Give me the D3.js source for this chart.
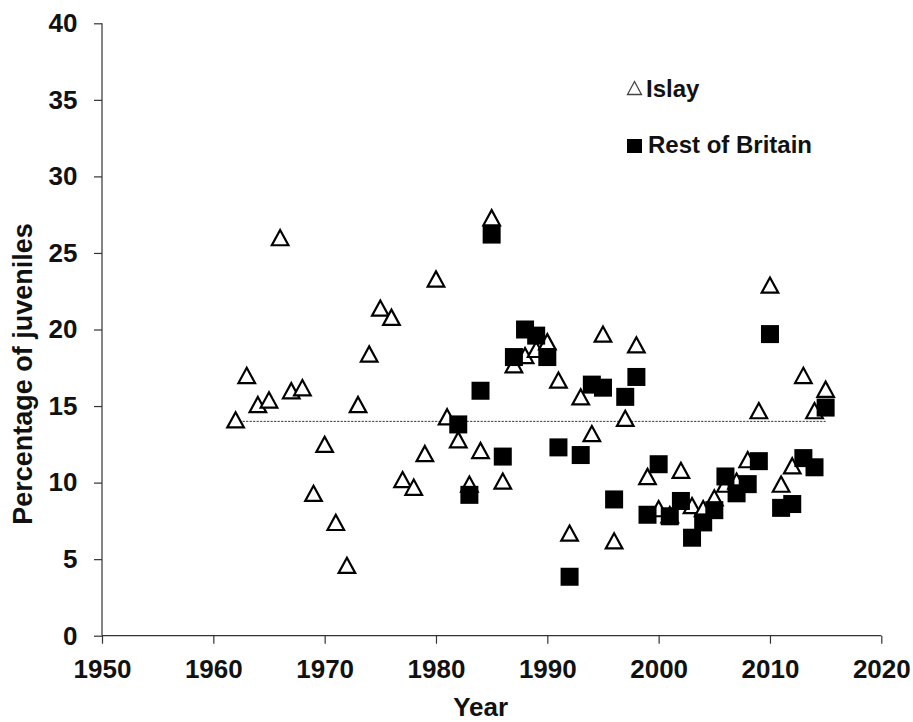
<!DOCTYPE html>
<html>
<head>
<meta charset="utf-8">
<script src="https://cdn.jsdelivr.net/npm/d3@7"></script>
<style>
  html, body { margin: 0; padding: 0; background: #fff; }
  svg { display: block; font-family: "Liberation Sans", Arial, sans-serif; }
</style>
</head>
<body>
<svg id="chart" width="913" height="722"></svg>
<script>
// ---- Data ----
const islayYears = [1962,1963,1964,1965,1966,1967,1968,1969,1970,1971,1972,1973,1974,1975,1976,1977,1978,1979,1980,1981,1982,1983,1984,1985,1986,1987,1988,1989,1990,1991,1992,1993,1994,1995,1996,1997,1998,1999,2000,2001,2002,2003,2004,2005,2006,2007,2008,2009,2010,2011,2012,2013,2014,2015];
const islayValues = [14.1,17.0,15.1,15.4,26.0,16.0,16.2,9.3,12.5,7.4,4.6,15.1,18.4,21.4,20.8,10.2,9.7,11.9,23.3,14.3,12.8,9.9,12.1,27.3,10.1,17.7,18.3,18.7,19.2,16.7,6.7,15.6,13.2,19.7,6.2,14.2,19.0,10.4,8.3,7.9,10.8,8.5,8.3,9.0,9.9,10.1,11.5,14.7,22.9,9.9,11.1,17.0,14.7,16.1];

const britainYears = [1982,1983,1984,1985,1986,1987,1988,1989,1990,1991,1992,1993,1994,1995,1996,1997,1998,1999,2000,2001,2002,2003,2004,2005,2006,2007,2008,2009,2010,2011,2012,2013,2014,2015];
const britainValues = [13.8,9.2,16.0,26.2,11.7,18.2,20.0,19.6,18.2,12.3,3.85,11.8,16.4,16.2,8.9,15.6,16.9,7.9,11.2,7.8,8.8,6.4,7.4,8.2,10.4,9.3,9.9,11.4,19.7,8.35,8.6,11.6,11.0,14.9];

const meanYears = [1962, 2015];
const meanValue = 14.0;

const xTicks = [1950,1960,1970,1980,1990,2000,2010,2020];
const yTicks = [0,5,10,15,20,25,30,35,40];
const seriesNames = ["Islay", "Rest of Britain"];
const axisTitles = { x: "Year", y: "Percentage of juveniles" };

// ---- Chart ----
const svg = d3.select("#chart");
svg.append("rect").attr("width", 913).attr("height", 722).attr("fill", "#fff");

const x = d3.scaleLinear().domain([1950, 2020]).range([102, 881.3]);
const y = d3.scaleLinear().domain([0, 40]).range([635.7, 23.3]);

const axisColor = "#333";

// y axis
const gy = svg.append("g").attr("transform", `translate(${x(1950)},0)`)
  .call(d3.axisLeft(y).tickValues(yTicks).tickSize(8).tickPadding(16.5).tickFormat(d3.format("d")));
// x axis
const gx = svg.append("g").attr("transform", `translate(0,${y(0)})`)
  .call(d3.axisBottom(x).tickValues(xTicks).tickSize(8).tickPadding(15.5).tickFormat(d3.format("d")));

[gx, gy].forEach(g => {
  g.select(".domain").attr("stroke", axisColor).attr("stroke-width", 1.2);
  g.selectAll(".tick line").attr("stroke", axisColor).attr("stroke-width", 1.2);
  g.selectAll(".tick text").attr("fill", "#111").attr("font-size", 26).attr("font-weight", "bold")
    .attr("font-family", '"Liberation Sans", Arial, sans-serif');
});
gy.select(".domain").attr("d", `M0,${y(0)}V${y(40)}`);
gx.select(".domain").attr("d", `M${x(1950)},0H${x(2020)}`);

// Axis titles
svg.append("text")
  .attr("x", (x(1950) + x(2020)) / 2 - 11).attr("y", 716)
  .attr("text-anchor", "middle").attr("font-size", 26).attr("font-weight", "bold").attr("fill", "#111")
  .text(axisTitles.x);
svg.append("text")
  .attr("transform", `translate(32,374) rotate(-90)`)
  .attr("text-anchor", "middle").attr("font-size", 27).attr("font-weight", "bold").attr("fill", "#111")
  .text(axisTitles.y);

// Mean dashed line
svg.append("line")
  .attr("x1", x(meanYears[0])).attr("x2", x(meanYears[1]))
  .attr("y1", y(meanValue)).attr("y2", y(meanValue))
  .attr("stroke", "#333").attr("stroke-width", 1).attr("stroke-dasharray", "2.2,1.3");

// Islay triangles
const islay = islayYears.map((yr, i) => ({ yr, v: islayValues[i] }));
const triPath = "M0,-7.6L8.3,7.6L-8.3,7.6Z";
svg.append("g").selectAll("path").data(islay).join("path")
  .attr("d", triPath)
  .attr("transform", d => `translate(${x(d.yr)},${y(d.v)})`)
  .attr("fill", "#fff").attr("stroke", "#000").attr("stroke-width", 2.2);

// Rest of Britain squares
const brit = britainYears.map((yr, i) => ({ yr, v: britainValues[i] }));
svg.append("g").selectAll("rect").data(brit).join("rect")
  .attr("x", d => x(d.yr) - 9).attr("y", d => y(d.v) - 9)
  .attr("width", 18).attr("height", 18)
  .attr("fill", "#000");

// Legend
const lg = svg.append("g");
lg.append("path").attr("d", "M0,-6.5L7,6.5L-7,6.5Z")
  .attr("transform", "translate(634.5,88)")
  .attr("fill", "#fff").attr("stroke", "#444").attr("stroke-width", 1.3);
lg.append("text").attr("x", 646).attr("y", 97).attr("font-size", 24).attr("font-weight", "bold").attr("fill", "#111")
  .text(seriesNames[0]);
lg.append("rect").attr("x", 627).attr("y", 139).attr("width", 15).attr("height", 14).attr("fill", "#000");
lg.append("text").attr("x", 648).attr("y", 153).attr("font-size", 24).attr("font-weight", "bold").attr("fill", "#111")
  .text(seriesNames[1]);
</script>
</body>
</html>
